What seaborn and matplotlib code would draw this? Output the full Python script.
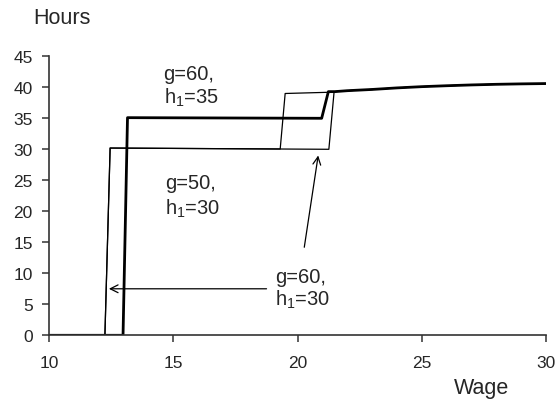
import numpy as np
import pandas as pd
import seaborn as sns
import matplotlib
matplotlib.use('Agg')
import matplotlib.pyplot as plt

# curves
wage_top = [21.5, 22, 23, 24, 25, 26, 27, 28, 29, 30]
hours_top = [39.3, 39.45, 39.65, 39.9, 40.1, 40.25, 40.38, 40.48, 40.55, 40.6]

wage_g60_h35 = [10, 12.97, 13.15, 20.97, 21.24] + wage_top
hours_g60_h35 = [0, 0, 35.1, 35.0, 39.3] + hours_top

wage_g60_h30 = [10, 12.24, 12.45, 21.26, 21.47] + wage_top
hours_g60_h30 = [0, 0, 30.2, 30.0, 39.25] + hours_top

wage_g50_h30 = [10, 12.24, 12.45, 19.3, 19.5, 21.3] + wage_top
hours_g50_h30 = [0, 0, 30.2, 30.05, 39.0, 39.2] + hours_top

sns.set_style('ticks')
plt.rcParams['font.family'] = ['Liberation Sans', 'DejaVu Sans']
plt.rcParams['mathtext.fontset'] = 'custom'
plt.rcParams['mathtext.rm'] = 'Liberation Sans'
plt.rcParams['mathtext.it'] = 'Liberation Sans:italic'

fig = plt.figure(figsize=(5.57, 4.06), dpi=100)
ax = fig.add_axes([0.0885, 0.1717, 0.8915, 0.6872])

sns.lineplot(x=wage_g50_h30, y=hours_g50_h30, sort=False, estimator=None,
             color='black', linewidth=0.9, ax=ax)
sns.lineplot(x=wage_g60_h30, y=hours_g60_h30, sort=False, estimator=None,
             color='black', linewidth=0.9, ax=ax)
sns.lineplot(x=wage_g60_h35, y=hours_g60_h35, sort=False, estimator=None,
             color='black', linewidth=2.0, ax=ax)

ax.set_xlim(10, 30)
ax.set_ylim(0, 45)
ax.set_xticks(range(10, 31, 5))
ax.set_yticks(range(0, 46, 5))
ax.tick_params(labelsize=12.5, length=5, width=1.1, color='#333333')
ax.tick_params(axis='y', pad=7)
ax.tick_params(axis='x', pad=9)
for s in ['left', 'bottom']:
    ax.spines[s].set_linewidth(1.2)
    ax.spines[s].set_color('#333333')
sns.despine(ax=ax)
ax.set_xlabel('')
ax.set_ylabel('')

# labels, one line at a time
labels = [
    (14.6, 41.35, 'g=60,'), (14.6, 37.47, 'h$_1$=35'),
    (14.66, 23.76, 'g=50,'), (14.66, 19.56, 'h$_1$=30'),
    (19.09, 8.6, 'g=60,'), (19.09, 4.89, 'h$_1$=30'),
]
for x, y, t in labels:
    ax.text(x, y, t, fontsize=14.5, va='baseline', ha='left')

ax.annotate('', xy=(12.4, 7.5), xytext=(18.75, 7.5),
            arrowprops=dict(arrowstyle='->', lw=0.9, color='black', shrinkA=0, shrinkB=0,
                            mutation_scale=14))
ax.annotate('', xy=(20.83, 29.0), xytext=(20.27, 14.2),
            arrowprops=dict(arrowstyle='->', lw=0.9, color='black', shrinkA=0, shrinkB=0,
                            mutation_scale=14))

fig.text(62 / 557, 1 - 19 / 406, 'Hours', fontsize=15.5, ha='center', va='center')
fig.text(482 / 557, 1 - 389 / 406, 'Wage', fontsize=15.5, ha='center', va='center')

fig.savefig('out.png', dpi=100)
